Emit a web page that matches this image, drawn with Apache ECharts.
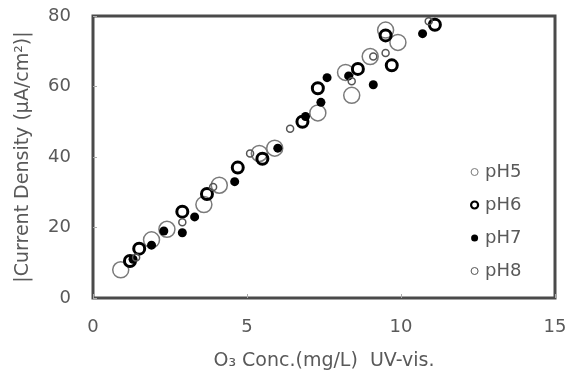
<!DOCTYPE html>
<html>
<head>
<meta charset="utf-8">
<script src="https://cdn.jsdelivr.net/npm/echarts@6/dist/echarts.min.js"></script>
<style>html,body{margin:0;padding:0;background:#fff}#c{width:574px;height:376px}</style>
</head>
<body>
<div id="c"></div>
<script>
const xTicks = [0, 5, 10, 15];
const yTicks = [0, 20, 40, 60, 80];
const seriesNames = ['pH5', 'pH6', 'pH7', 'pH8'];
const ph5 = [[0.9,8],[1.9,16.5],[2.4,19.5],[3.6,26.5],[4.1,32],[5.4,41],[5.9,42.5],[7.3,52.5],[8.2,64],[8.4,57.5],[9.0,68.5],[9.5,76],[9.9,72.5]];
const ph6 = [[1.2,10.5],[1.5,14],[2.9,24.5],[3.7,29.5],[4.7,37],[5.5,39.5],[6.8,50],[7.3,59.5],[8.6,65],[9.7,66],[9.5,74.5],[11.1,77.5]];
const ph7 = [[1.3,11],[1.9,15],[2.3,19],[2.9,18.5],[3.3,23],[4.6,33],[6.0,42.5],[6.9,51.5],[7.4,55.5],[7.6,62.5],[8.3,63],[9.1,60.5],[10.7,75]];
const ph8 = [[1.4,11.5],[2.9,21.5],[3.9,31.5],[5.1,41],[6.4,48],[8.4,61.5],[9.1,68.5],[9.5,69.5],[10.9,78.5]];

const font = 'DejaVu Sans';
const txt = '#595959';
const styles = {
  pH5: {color: 'rgba(255,255,255,0)', borderColor: '#7a7a7a', borderWidth: 1.5, opacity: 1},
  pH6: {color: 'rgba(255,255,255,0)', borderColor: '#000', borderWidth: 3, opacity: 1},
  pH7: {color: '#000', borderWidth: 0, opacity: 1},
  pH8: {color: 'rgba(255,255,255,0)', borderColor: '#555', borderWidth: 1.5, opacity: 1}
};
const legendStyles = {
  pH5: {color: '#fff', borderColor: '#7a7a7a', borderWidth: 1},
  pH6: {color: '#fff', borderColor: '#000', borderWidth: 2.2},
  pH7: {color: '#000', borderColor: '#000', borderWidth: 0},
  pH8: {color: '#fff', borderColor: '#555', borderWidth: 1}
};
const chart = echarts.init(document.getElementById('c'), null, {renderer: 'canvas'});
chart.setOption({
  animation: false,
  backgroundColor: '#fff',
  textStyle: {fontFamily: font},
  grid: {left: 93, right: 19, top: 16, bottom: 76, show: true, borderColor: '#4a4a4a', borderWidth: 3, backgroundColor: '#fff'},
  legend: {
    orient: 'vertical', left: 465, top: 158, itemGap: 15, itemWidth: 7, itemHeight: 7,
    data: seriesNames.map(n => ({name: n, icon: 'circle', itemStyle: legendStyles[n]})),
    textStyle: {color: txt, fontSize: 18, fontFamily: font, padding: [0, 0, 0, 2]}
  },
  xAxis: {
    type: 'value', min: xTicks[0], max: xTicks[xTicks.length - 1], interval: 5,
    name: 'O\u2083 Conc.(mg/L)  UV-vis.', nameLocation: 'middle', nameGap: 54,
    nameTextStyle: {color: txt, fontSize: 19, fontFamily: font},
    axisLine: {show: false},
    axisTick: {show: true, inside: true, length: 4, lineStyle: {color: '#aaa'}},
    splitLine: {show: false},
    axisLabel: {color: txt, fontSize: 18, margin: 20, fontFamily: font}
  },
  yAxis: {
    type: 'value', min: yTicks[0], max: yTicks[yTicks.length - 1], interval: 20,
    name: '|Current Density (\u03bcA/cm\u00b2)|', nameLocation: 'middle', nameGap: 60,
    nameTextStyle: {color: txt, fontSize: 19, fontFamily: font},
    axisLine: {show: false},
    axisTick: {show: true, inside: true, length: 4, lineStyle: {color: '#aaa'}},
    splitLine: {show: false},
    axisLabel: {color: txt, fontSize: 18, margin: 22, fontFamily: font}
  },
  series: [
    {name: 'pH5', type: 'scatter', data: ph5, symbolSize: 16, z: 2, itemStyle: styles.pH5},
    {name: 'pH6', type: 'scatter', data: ph6, symbolSize: 11, z: 3, itemStyle: styles.pH6},
    {name: 'pH7', type: 'scatter', data: ph7, symbolSize: 9, z: 4, itemStyle: styles.pH7},
    {name: 'pH8', type: 'scatter', data: ph8, symbolSize: 7, z: 5, itemStyle: styles.pH8}
  ]
});
</script>
</body>
</html>
